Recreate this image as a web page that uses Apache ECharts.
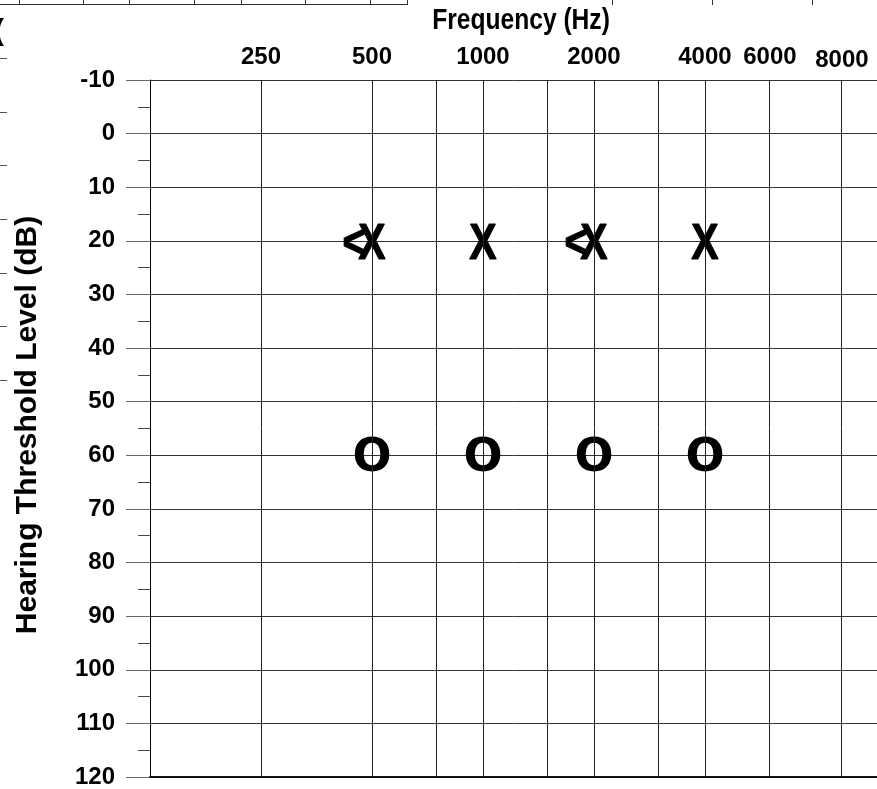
<!DOCTYPE html>
<html><head><meta charset="utf-8">
<script src="https://cdn.jsdelivr.net/npm/echarts@6/dist/echarts.min.js"></script>
<style>html,body{margin:0;padding:0;background:#fff}#c{width:877px;height:789px}</style>
</head><body><div id="c"></div>
<script>
// Audiogram columns (frequency -> column on the chart's frequency scale)
const gridFreqs = [250, 500, 750, 1000, 1500, 2000, 3000, 4000, 6000, 8000];
const gridColumns = [1, 2, 2.585, 3, 3.585, 4, 4.585, 5, 5.585, 6.234];
const labelFreqs = [250, 500, 1000, 2000, 4000, 6000, 8000];
const dbMin = -10, dbMax = 120, dbStep = 10;

// "X" markers
const xFreqs = [500, 1000, 2000, 4000];
const xValues = [20, 20, 20, 20];
// "O" markers
const oFreqs = [500, 1000, 2000, 4000];
const oValues = [60, 60, 60, 60];
// "<" markers
const ltFreqs = [500, 2000];
const ltValues = [20, 20];

const col = f => gridColumns[gridFreqs.indexOf(f)];
const SANS = '"Liberation Sans",Arial,sans-serif';
const NARROW_SCALE = 0.82;

const chart = echarts.init(document.getElementById('c'), null, {renderer: 'canvas'});
const xMax = 6.55;

function markerSeries(name, freqs, vals, text, font, sx, dx, dy, sw) {
  return {
    name, type: 'custom', silent: true, animation: false, clip: false,
    data: freqs.map((f, i) => [col(f), vals[i]]),
    renderItem: (params, api) => {
      const p = api.coord([api.value(0), api.value(1)]);
      return {type: 'text', x: p[0] + dx, y: p[1] + dy, scaleX: sx,
        style: {text, font, fill: '#000', stroke: '#000', lineWidth: sw,
          textAlign: 'center', textVerticalAlign: 'middle'}};
    }
  };
}

const artifactLines = [];
// stray fragments of a neighbouring figure at the edges
artifactLines.push({type: 'line', shape: {x1: 0, y1: 4.5, x2: 407, y2: 4.5}, style: {stroke: '#333', lineWidth: 1}});
[19, 83, 129, 194, 241, 305, 370, 407, 612, 712, 812].forEach(x =>
  artifactLines.push({type: 'line', shape: {x1: x + 0.5, y1: 0, x2: x + 0.5, y2: 5}, style: {stroke: '#333', lineWidth: 1}}));
[58, 112, 165, 219, 273, 326, 380].forEach(y =>
  artifactLines.push({type: 'line', shape: {x1: 0, y1: y + 0.5, x2: 7, y2: y + 0.5}, style: {stroke: '#555', lineWidth: 1}}));
artifactLines.push({type: 'text', x: -6, y: 32, style: {text: '(', font: 'bold 30px ' + SANS, fill: '#000', textVerticalAlign: 'middle'}});

chart.setOption({
  animation: false,
  backgroundColor: '#fff',
  grid: {left: 150, right: 0, top: 80, bottom: 11},
  xAxis: [{
    type: 'value', position: 'top', min: 0, max: xMax,
    axisLine: {show: true, lineStyle: {color: '#333', width: 1}},
    axisTick: {show: false}, splitLine: {show: false},
    axisLabel: {
      show: true, customValues: labelFreqs.map(col), margin: 11,
      formatter: v => { const f = gridFreqs[gridColumns.indexOf(v)]; return f === 8000 ? '{lo|' + f + '}' : '{n|' + f + '}'; },
      rich: {
        n: {fontFamily: SANS, fontWeight: 'bold', fontSize: 24, color: '#000'},
        lo: {fontFamily: SANS, fontWeight: 'bold', fontSize: 24, color: '#000', padding: [0, 0, -3, 0]}
      }
    }
  }, {
    type: 'value', position: 'bottom', min: 0, max: xMax,
    axisLine: {show: true, lineStyle: {color: '#111', width: 2}},
    axisTick: {show: false}, axisLabel: {show: false}, splitLine: {show: false}
  }],
  yAxis: {
    type: 'value', inverse: true, min: dbMin, max: dbMax, interval: dbStep,
    axisLine: {show: true, lineStyle: {color: '#000', width: 1}},
    axisTick: {show: true, length: 24, lineStyle: {color: '#666'}},
    minorTick: {show: true, splitNumber: 2, length: 12, lineStyle: {color: '#444'}},
    splitLine: {show: true, lineStyle: {color: '#333', width: 1}},
    axisLabel: {margin: 35, fontFamily: SANS, fontWeight: 'bold', fontSize: 24, color: '#000'}
  },
  series: [
    {
      type: 'line', data: [], silent: true,
      markLine: {
        silent: true, symbol: 'none', animation: false, label: {show: false},
        lineStyle: {color: '#222', width: 1, type: 'solid'},
        data: gridColumns.map(c => ({xAxis: c}))
      }
    },
    markerSeries('X', xFreqs, xValues, 'X', 'bold 50px ' + SANS, NARROW_SCALE, 0, 4, 1.2),
    markerSeries('O', oFreqs, oValues, 'O', 'bold 46px "DejaVu Sans",sans-serif', 1, 0, 4, 0),
    markerSeries('<', ltFreqs, ltValues, '<', 'bold 48px ' + SANS, NARROW_SCALE, -18, 4, 1.2)
  ],
  graphic: artifactLines.concat([
    {type: 'text', x: 521, y: 21, scaleX: NARROW_SCALE, style: {text: 'Frequency (Hz)', font: 'bold 30px ' + SANS, fill: '#000', textAlign: 'center', textVerticalAlign: 'middle'}},
    {type: 'text', x: 28, y: 425, rotation: Math.PI / 2, style: {text: 'Hearing Threshold Level (dB)', font: 'bold 30px ' + SANS, fill: '#000', textAlign: 'center', textVerticalAlign: 'middle'}}
  ])
});
</script></body></html>
